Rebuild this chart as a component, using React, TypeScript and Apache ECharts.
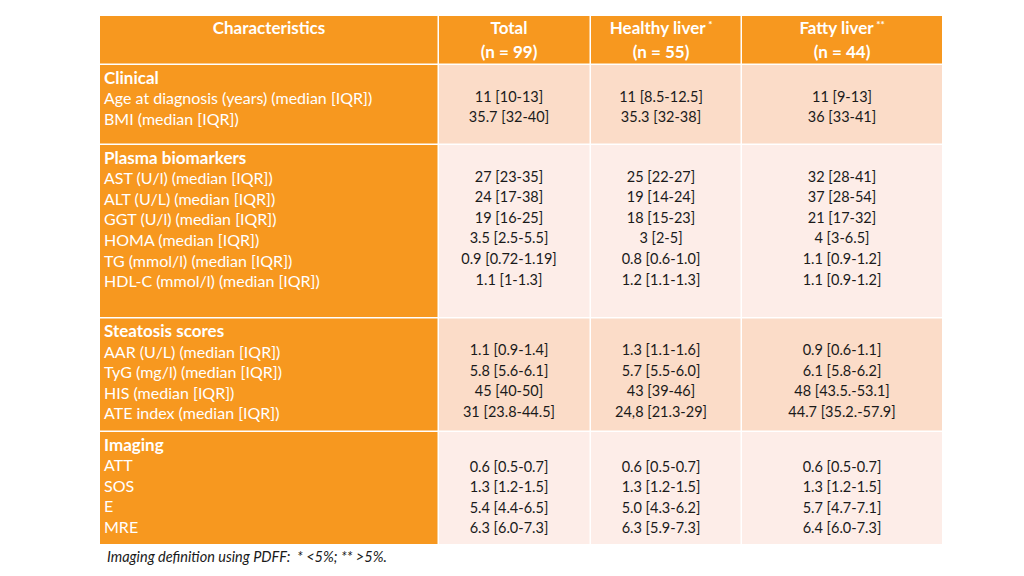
import { useEffect, useRef } from "react";
import * as echarts from "echarts";

// ---- Data ----
const headerTitles = ["Characteristics", "Total", "Healthy liver", "Fatty liver"];
const headerCounts = ["", "(n = 99)", "(n = 55)", "(n = 44)"];
const headerMarks = ["", "", "*", "**"];
const footnote = "Imaging definition using PDFF:  * <5%; ** >5%.";

const sectionNames = ["Clinical", "Plasma biomarkers", "Steatosis scores", "Imaging"];

const clinicalLabels = ["Age at diagnosis (years) (median [IQR])", "BMI (median [IQR])"];
const clinicalTotal = ["11 [10-13]", "35.7 [32-40]"];
const clinicalHealthy = ["11 [8.5-12.5]", "35.3 [32-38]"];
const clinicalFatty = ["11 [9-13]", "36 [33-41]"];

const plasmaLabels = [
  "AST (U/l) (median [IQR])",
  "ALT (U/L) (median [IQR])",
  "GGT (U/l) (median [IQR])",
  "HOMA (median [IQR])",
  "TG (mmol/l) (median [IQR])",
  "HDL-C (mmol/l) (median [IQR])",
];
const plasmaTotal = ["27 [23-35]", "24 [17-38]", "19 [16-25]", "3.5 [2.5-5.5]", "0.9 [0.72-1.19]", "1.1 [1-1.3]"];
const plasmaHealthy = ["25 [22-27]", "19 [14-24]", "18 [15-23]", "3 [2-5]", "0.8 [0.6-1.0]", "1.2 [1.1-1.3]"];
const plasmaFatty = ["32 [28-41]", "37 [28-54]", "21 [17-32]", "4 [3-6.5]", "1.1 [0.9-1.2]", "1.1 [0.9-1.2]"];

const steatosisLabels = [
  "AAR (U/L) (median [IQR])",
  "TyG (mg/l) (median [IQR])",
  "HIS (median [IQR])",
  "ATE index (median [IQR])",
];
const steatosisTotal = ["1.1 [0.9-1.4]", "5.8 [5.6-6.1]", "45 [40-50]", "31 [23.8-44.5]"];
const steatosisHealthy = ["1.3 [1.1-1.6]", "5.7 [5.5-6.0]", "43 [39-46]", "24,8 [21.3-29]"];
const steatosisFatty = ["0.9 [0.6-1.1]", "6.1 [5.8-6.2]", "48 [43.5.-53.1]", "44.7 [35.2.-57.9]"];

const imagingLabels = ["ATT", "SOS", "E", "MRE"];
const imagingTotal = ["0.6 [0.5-0.7]", "1.3 [1.2-1.5]", "5.4 [4.4-6.5]", "6.3 [6.0-7.3]"];
const imagingHealthy = ["0.6 [0.5-0.7]", "1.3 [1.2-1.5]", "5.0 [4.3-6.2]", "6.3 [5.9-7.3]"];
const imagingFatty = ["0.6 [0.5-0.7]", "1.3 [1.2-1.5]", "5.7 [4.7-7.1]", "6.4 [6.0-7.3]"];

const sectionLabels = [clinicalLabels, plasmaLabels, steatosisLabels, imagingLabels];
const sectionValues = [
  [clinicalTotal, clinicalHealthy, clinicalFatty],
  [plasmaTotal, plasmaHealthy, plasmaFatty],
  [steatosisTotal, steatosisHealthy, steatosisFatty],
  [imagingTotal, imagingHealthy, imagingFatty],
];

// ---- Layout (pixel space of the hidden axes) ----
const colEdges = [100, 439, 591, 742, 942];
const colCenters = [269, 509, 661, 842];
const headerBand = [16, 63.5];
const sectionBands = [
  [65, 143.5],
  [145, 317],
  [318.5, 430.5],
  [432, 544],
];
const valueOffsets = [31, 31, 31, 34];
const gap = 1.5;
const lineStep = 20.6;

const ORANGE = "#F7981F";
const PEACH_DARK = "#FBDCC8";
const PEACH_LIGHT = "#FDEDE8";
const sectionFill = [PEACH_DARK, PEACH_LIGHT, PEACH_DARK, PEACH_LIGHT];
const FONT = "Lato, 'Open Sans', sans-serif";
const TEXT_DARK = "#1a1a1a";

function txt(x: number, y: number, text: string, opts: any = {}) {
  const align = opts.align || "center";
  return {
    type: "text",
    style: {
      x,
      y,
      text,
      fill: opts.fill || TEXT_DARK,
      fontSize: opts.fontSize || 15,
      fontWeight: opts.fontWeight || "normal",
      fontFamily: FONT,
      align,
      textAlign: align,
      verticalAlign: "middle",
      textVerticalAlign: "middle",
      rich: opts.rich,
    },
  };
}

export default function App() {
  const ref = useRef<HTMLDivElement>(null);

  useEffect(() => {
    if (!ref.current) return;
    const chart = echarts.init(ref.current, undefined, { renderer: "svg" });

    const cells: number[][] = [];
    for (let c = 0; c < 4; c++) cells.push([c, -1]);
    for (let s = 0; s < sectionNames.length; s++) for (let c = 0; c < 4; c++) cells.push([c, s]);

    const renderItem = (_params: any, api: any) => {
      const c = api.value(0) as number;
      const s = api.value(1) as number;
      const band = s < 0 ? headerBand : sectionBands[s];
      const x0 = colEdges[c];
      const x1 = colEdges[c + 1] - (c < 3 ? gap : 0);
      const p0 = api.coord([x0, band[0]]);
      const p1 = api.coord([x1, band[1]]);
      const fill = s < 0 || c === 0 ? ORANGE : sectionFill[s];
      const children: any[] = [
        {
          type: "rect",
          shape: { x: p0[0], y: p0[1], width: p1[0] - p0[0], height: p1[1] - p0[1] },
          style: { fill },
        },
      ];
      const cx = api.coord([colCenters[c], 0])[0];
      if (s < 0) {
        const tY = api.coord([0, band[0] + 11.5])[1];
        const nY = api.coord([0, band[0] + 35])[1];
        const mark = headerMarks[c];
        const text = mark ? `{t|${headerTitles[c]}}{s| ${mark}}` : `{t|${headerTitles[c]}}`;
        children.push(
          txt(cx, tY, text, {
            fill: "#fff",
            rich: {
              t: { fontSize: 17, fontWeight: "bold", fill: "#fff", fontFamily: FONT },
              s: { fontSize: 10, fontWeight: "bold", fill: "#fff", fontFamily: FONT, verticalAlign: "top" },
            },
          })
        );
        if (headerCounts[c]) {
          children.push(txt(cx, nY, headerCounts[c], { fill: "#fff", fontSize: 17, fontWeight: "bold" }));
        }
      } else if (c === 0) {
        const lx = api.coord([104, 0])[0];
        const nameY = api.coord([0, band[0] + 12])[1];
        children.push(
          txt(lx, nameY, sectionNames[s], { fill: "#fff", fontSize: 17, fontWeight: "bold", align: "left" })
        );
        sectionLabels[s].forEach((lab, i) => {
          const y = api.coord([0, band[0] + 12 + (i + 1) * lineStep])[1];
          children.push(txt(lx, y, lab, { fill: "#fff", fontSize: 16, align: "left" }));
        });
      } else {
        sectionValues[s][c - 1].forEach((v, i) => {
          const y = api.coord([0, band[0] + valueOffsets[s] + i * lineStep])[1];
          children.push(txt(cx, y, v, { fontSize: 14.5 }));
        });
      }
      return { type: "group", children };
    };

    chart.setOption({
      animation: false,
      backgroundColor: "#ffffff",
      grid: { left: 0, right: 0, top: 0, bottom: 0 },
      xAxis: { type: "value", min: 0, max: 1024, show: false },
      yAxis: { type: "value", min: 0, max: 576, inverse: true, show: false },
      series: [
        {
          type: "custom",
          renderItem,
          data: cells,
          silent: true,
        },
      ],
      graphic: [
        {
          type: "text",
          left: 107,
          top: 549,
          style: {
            text: footnote,
            fill: TEXT_DARK,
            fontSize: 14.5,
            fontStyle: "italic",
            fontFamily: FONT,
          },
        },
      ],
    });

    return () => chart.dispose();
  }, []);

  return (
    <div
      ref={ref}
      style={{ position: "fixed", left: 0, top: 0, width: 1024, height: 576, background: "#fff" }}
    />
  );
}
